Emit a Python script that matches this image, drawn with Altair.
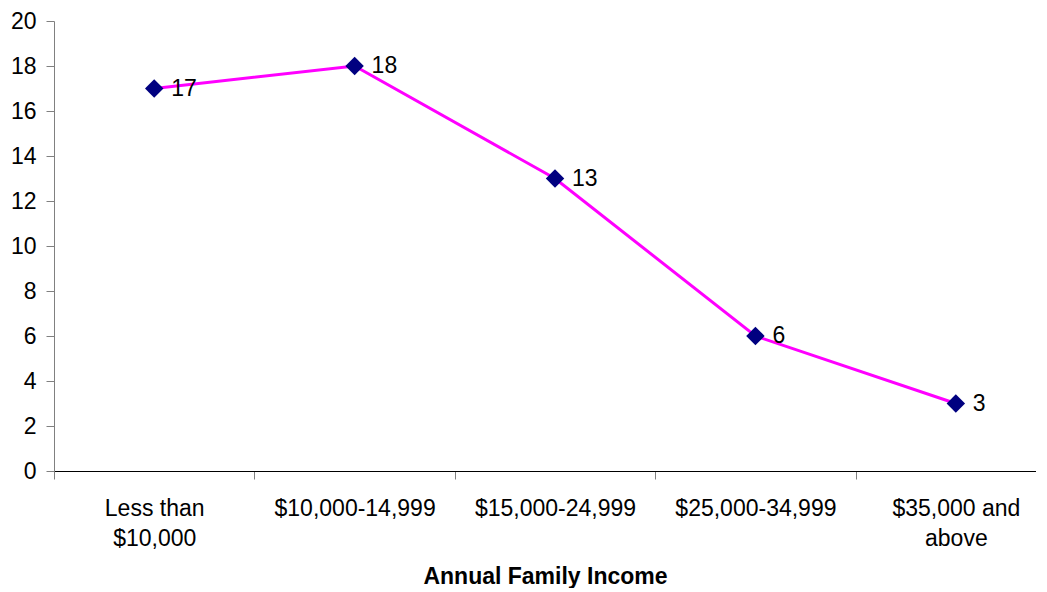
import altair as alt
import pandas as pd

categories = ["Less than $10,000", "$10,000-14,999", "$15,000-24,999",
              "$25,000-34,999", "$35,000 and above"]
label_lines = [["Less than", "$10,000"], ["$10,000-14,999"], ["$15,000-24,999"],
               ["$25,000-34,999"], ["$35,000 and", "above"]]
values = [17, 18, 13, 6, 3]
y_ticks = [0, 2, 4, 6, 8, 10, 12, 14, 16, 18, 20]

df = pd.DataFrame({
    "category": categories,
    "pos": [i + 0.5 for i in range(len(categories))],
    "value": values,
})

# label expression: category names at band centres, blank at band boundaries
expr = "''"
for i, lines in reversed(list(enumerate(label_lines))):
    arr = "[" + ", ".join("'" + s + "'" for s in lines) + "]"
    expr = f"datum.value == {i + 0.5} ? {arr} : ({expr})"

tick_vals = []
for i in range(len(categories)):
    tick_vals += [i, i + 0.5]

FONT = "Liberation Sans"

x_enc = alt.X(
    "pos:Q",
    scale=alt.Scale(domain=[0, 4.9], nice=False, zero=False),
    axis=alt.Axis(
        values=tick_vals,
        labelExpr=expr,
        labelOverlap=False,
        labelFlush=False,
        labelBound=False,
        labelFontSize=23,
        labelFont=FONT,
        labelColor="black",
        labelLineHeight=30,
        labelPadding=18,
        tickSize=8,
        tickColor="#808080",
        tickOpacity={"condition": {"test": "datum.value % 1 != 0", "value": 0}, "value": 1},
        domainColor="black",
        grid=False,
        title="Annual Family Income",
        titleFont=FONT,
        titleFontSize=23,
        titleFontWeight="bold",
        titleColor="black",
        titlePadding=15,
    ),
)
y_enc = alt.Y(
    "value:Q",
    scale=alt.Scale(domain=[0, 20], nice=False),
    axis=alt.Axis(
        values=y_ticks,
        tickSize=8,
        labelPadding=10,
        labelFontSize=23,
        labelFont=FONT,
        labelColor="black",
        tickColor="#808080",
        domainColor="#808080",
        grid=False,
        title=None,
    ),
)

base = alt.Chart(df).encode(x=x_enc, y=y_enc)

line = base.mark_line(color="#FF00FF", strokeWidth=3)
points = base.mark_point(shape="diamond", filled=True, color="#000080", size=340, opacity=1)
labels = base.mark_text(align="left", baseline="middle", dx=17, fontSize=23,
                        font=FONT, color="black").encode(text="value:Q")

chart = (line + points + labels).properties(
    width=982,
    height=450,
    padding={"left": 2, "top": 2, "right": 0, "bottom": 0},
).configure_view(stroke=None)

chart.save("out.html", embed_options={"renderer": "svg", "actions": False})
